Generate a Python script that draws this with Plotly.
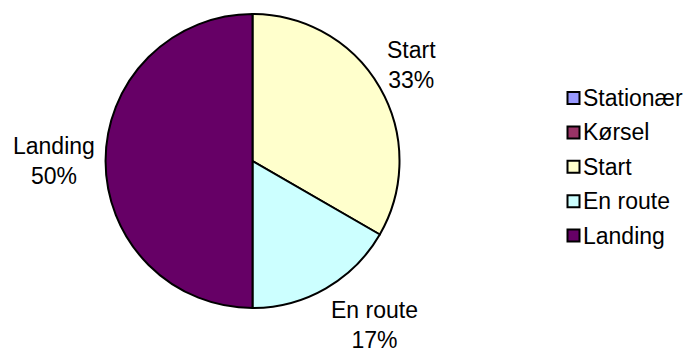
import math
import plotly.graph_objects as go

# Flight phases and their counts
labels = ["Stationær", "Kørsel", "Start", "En route", "Landing"]
values = [0, 0, 2, 1, 3]
colors = ["#9999FF", "#993366", "#FFFFCC", "#CCFFFF", "#660066"]

W, H = 698, 352
FONT = "Arial, Liberation Sans, sans-serif"
FS = 23

# Pie geometry in pixels
cx, cy, r = 252.5, 161.0, 147.0

fig = go.Figure(
    go.Pie(
        labels=labels,
        values=values,
        sort=False,
        direction="clockwise",
        rotation=0,
        marker=dict(colors=colors, line=dict(color="black", width=2)),
        textinfo="none",
        hoverinfo="label+percent",
        showlegend=False,
        domain=dict(x=[(cx - r) / W, (cx + r) / W], y=[(H - cy - r) / H, (H - cy + r) / H]),
    )
)

annotations, shapes = [], []

# Data labels outside the pie: the nearest corner of each label sits just
# beyond the rim along the slice's mid angle.
total = sum(values)
gap = 7
shift_above = -11   # pixel nudge (up is positive) for labels above the centre
shift_below = -1    # pixel nudge for labels below the centre
start = 0.0
for lab, v in zip(labels, values):
    frac = v / total
    if v > 0:
        mid = math.radians((start + frac / 2) * 360)
        sx, cz = math.sin(mid), math.cos(mid)
        px = cx + (r + gap) * sx
        py = cy - (r + gap) * cz
        if sx > 0.2:
            xa, xs = "left", -1
        elif sx < -0.2:
            xa, xs = "right", -2
        else:
            xa, xs = "center", 0
        if cz > 0.2:
            ya, ys = "bottom", shift_above
        elif cz < -0.2:
            ya, ys = "top", shift_below
        else:
            ya, ys = "middle", 0
        annotations.append(dict(
            xref="paper", yref="paper", x=px / W, y=(H - py) / H,
            xanchor=xa, yanchor=ya, xshift=xs, yshift=ys,
            text=f"{lab}<br>{round(100 * frac)}%", align="center", showarrow=False,
            font=dict(family=FONT, size=FS, color="black"),
        ))
    start += frac

# Legend: swatch + label per category
leg_x0 = 567.5
sw = 12
row0, row_step = 98.0, 34.4
for i, (lab, col) in enumerate(zip(labels, colors)):
    yc = row0 + i * row_step
    shapes.append(dict(
        type="rect", xref="paper", yref="paper",
        x0=leg_x0 / W, x1=(leg_x0 + sw) / W,
        y0=(H - yc - sw / 2) / H, y1=(H - yc + sw / 2) / H,
        fillcolor=col, line=dict(color="black", width=2),
    ))
    annotations.append(dict(
        xref="paper", yref="paper", x=(leg_x0 + sw + 1) / W, y=(H - yc) / H,
        xanchor="left", yanchor="middle", text=lab, showarrow=False,
        font=dict(family=FONT, size=FS, color="black"),
    ))

fig.update_layout(
    width=W, height=H,
    margin=dict(l=0, r=0, t=0, b=0),
    paper_bgcolor="white", plot_bgcolor="white",
    shapes=shapes, annotations=annotations,
    font=dict(family=FONT, size=FS, color="black"),
)

fig.write_html("out.html")
